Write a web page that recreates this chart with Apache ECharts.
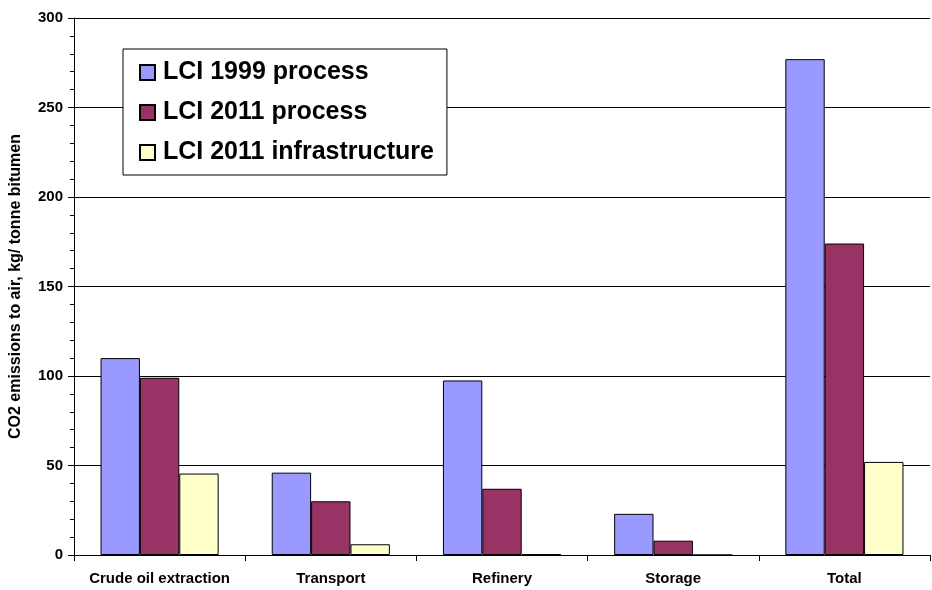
<!DOCTYPE html>
<html>
<head>
<meta charset="utf-8">
<script src="https://cdn.jsdelivr.net/npm/echarts@6/dist/echarts.min.js"></script>
<style>
  html, body { margin: 0; padding: 0; background: #fff; }
  #chart { width: 932px; height: 590px; }
</style>
</head>
<body>
<div id="chart"></div>
<script>
var categories = ['Crude oil extraction', 'Transport', 'Refinery', 'Storage', 'Total']
var lci1999 = [110, 46, 97.5, 23, 277]
var lci2011 = [99, 30, 37, 8, 174]
var lci2011Infra = [45.5, 6, 0.4, 0, 52]

var chart = echarts.init(document.getElementById('chart'))
var font = 'Arial, "Liberation Sans", sans-serif'

chart.setOption({
  animation: false,
  textStyle: { fontFamily: font },
  grid: { left: 74, right: 2, top: 18, bottom: 35 },
  legend: {
    left: 123,
    top: 49,
    orient: 'vertical',
    icon: 'rect',
    padding: [11, 13, 10, 16],
    itemGap: 15,
    itemWidth: 15,
    itemHeight: 15,
    backgroundColor: '#fff',
    borderColor: '#000',
    borderWidth: 1,
    textStyle: { fontSize: 25, fontWeight: 'bold', color: '#000', fontFamily: font, padding: [0, 0, 0, 3] },
    data: ['LCI 1999 process', 'LCI 2011 process', 'LCI 2011 infrastructure']
  },
  xAxis: {
    type: 'category',
    data: categories,
    axisLine: { lineStyle: { color: '#000', width: 1 } },
    axisTick: { show: true, interval: 0, length: 6, lineStyle: { color: '#000' } },
    axisLabel: { interval: 0, color: '#000', fontWeight: 'bold', fontSize: 15, margin: 16 }
  },
  yAxis: {
    type: 'value',
    min: 0,
    max: 300,
    interval: 50,
    name: 'CO2 emissions to air, kg/ tonne bitumen',
    nameLocation: 'middle',
    nameGap: 50,
    nameTextStyle: { color: '#000', fontWeight: 'bold', fontSize: 16 },
    axisLine: { show: true, lineStyle: { color: '#000', width: 1 } },
    axisTick: { show: true, length: 6, lineStyle: { color: '#000' } },
    minorTick: { show: true, splitNumber: 5, length: 4, lineStyle: { color: '#000' } },
    axisLabel: { color: '#000', fontWeight: 'bold', fontSize: 15, margin: 11 },
    splitLine: { lineStyle: { color: '#000', width: 1 } }
  },
  series: [{
    name: 'LCI 1999 process',
    type: 'bar',
    barGap: '0%',
    barCategoryGap: '31%',
    itemStyle: { color: '#9999ff', borderColor: '#000', borderWidth: 1 },
    data: lci1999
  }, {
    name: 'LCI 2011 process',
    type: 'bar',
    itemStyle: { color: '#993366', borderColor: '#000', borderWidth: 1 },
    data: lci2011
  }, {
    name: 'LCI 2011 infrastructure',
    type: 'bar',
    itemStyle: { color: '#ffffcc', borderColor: '#000', borderWidth: 1 },
    data: lci2011Infra
  }]
})
</script>
</body>
</html>
